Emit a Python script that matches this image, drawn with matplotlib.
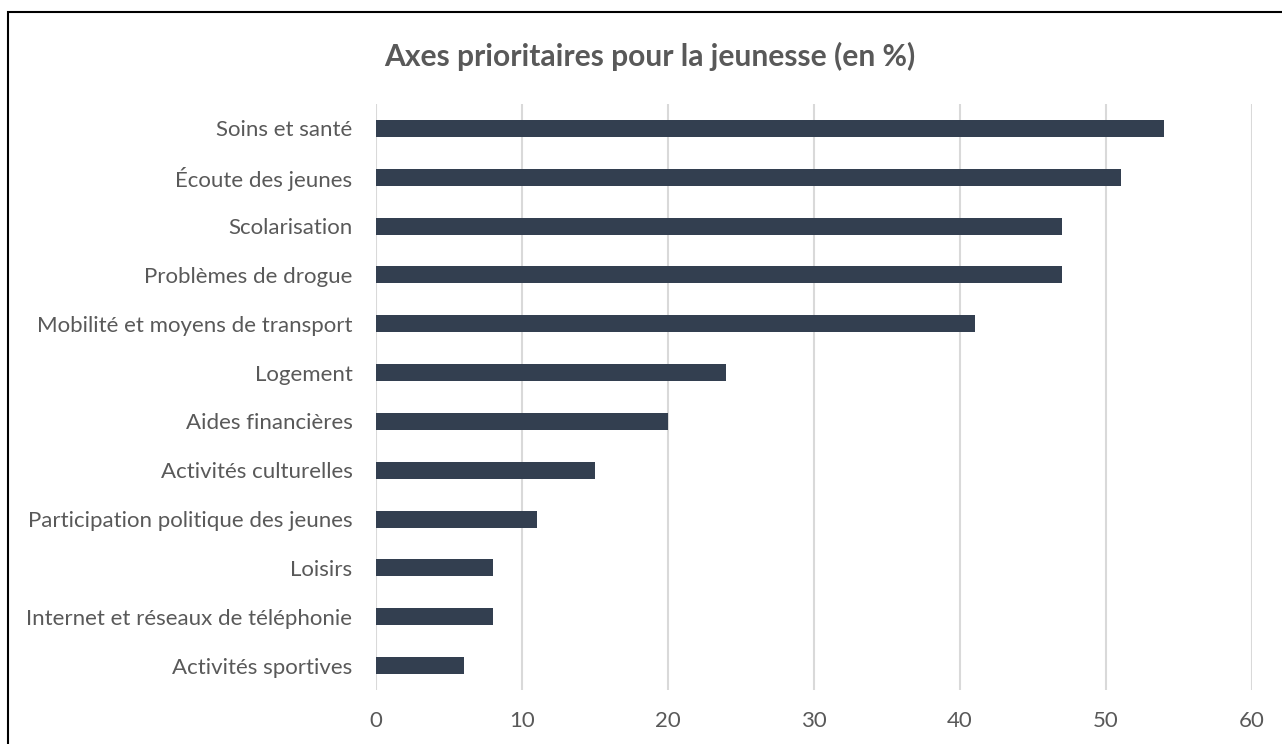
import matplotlib
matplotlib.use("Agg")
import matplotlib.pyplot as plt
from matplotlib.patches import Rectangle

plt.rcParams['font.family'] = ['Lato', 'DejaVu Sans']

categories = [
    "Soins et santé",
    "Écoute des jeunes",
    "Scolarisation",
    "Problèmes de drogue",
    "Mobilité et moyens de transport",
    "Logement",
    "Aides financières",
    "Activités culturelles",
    "Participation politique des jeunes",
    "Loisirs",
    "Internet et réseaux de téléphonie",
    "Activités sportives",
]
values = [54, 51, 47, 47, 41, 24, 20, 15, 11, 8, 8, 6]
x_ticks = [0, 10, 20, 30, 40, 50, 60]
title = "Axes prioritaires pour la jeunesse (en %)"

bar_color = "#333F50"
text_color = "#595959"
grid_color = "#D9D9D9"

W, H = 1282, 744
fig = plt.figure(figsize=(W / 100, H / 100), dpi=100)
fig.patch.set_facecolor("white")

# plot area in pixel terms
left, right, top, bottom = 376, 1252, 104, 690
ax = fig.add_axes([left / W, 1 - bottom / H, (right - left) / W, (bottom - top) / H])

ypos = list(range(len(categories)))
ax.barh(ypos, values, height=0.35, color=bar_color, zorder=3)
ax.set_ylim(len(categories) - 0.5, -0.5)
ax.set_xlim(x_ticks[0], x_ticks[-1])
ax.set_xticks(x_ticks)
ax.set_xticklabels([str(t) for t in x_ticks])
ax.set_yticks(ypos)
ax.set_yticklabels(categories)

ax.tick_params(axis="both", length=0, labelsize=16, colors=text_color)
ax.tick_params(axis="x", pad=15)
ax.tick_params(axis="y", pad=17)

ax.grid(axis="x", color=grid_color, linewidth=1.5, zorder=0)
for s in ax.spines.values():
    s.set_visible(False)

fig.text(650 / W, 1 - 56 / H, title, ha="center", va="center",
         fontsize=21.6, fontweight="bold", color=text_color)

# chart frame (only top and left edges fall inside the image)
fig.patches.append(Rectangle((8 / W, -0.1), 1.2, (1 - 12 / H) + 0.1,
                             transform=fig.transFigure, fill=False,
                             edgecolor="black", linewidth=1.5))

fig.savefig("out.png", dpi=100)
